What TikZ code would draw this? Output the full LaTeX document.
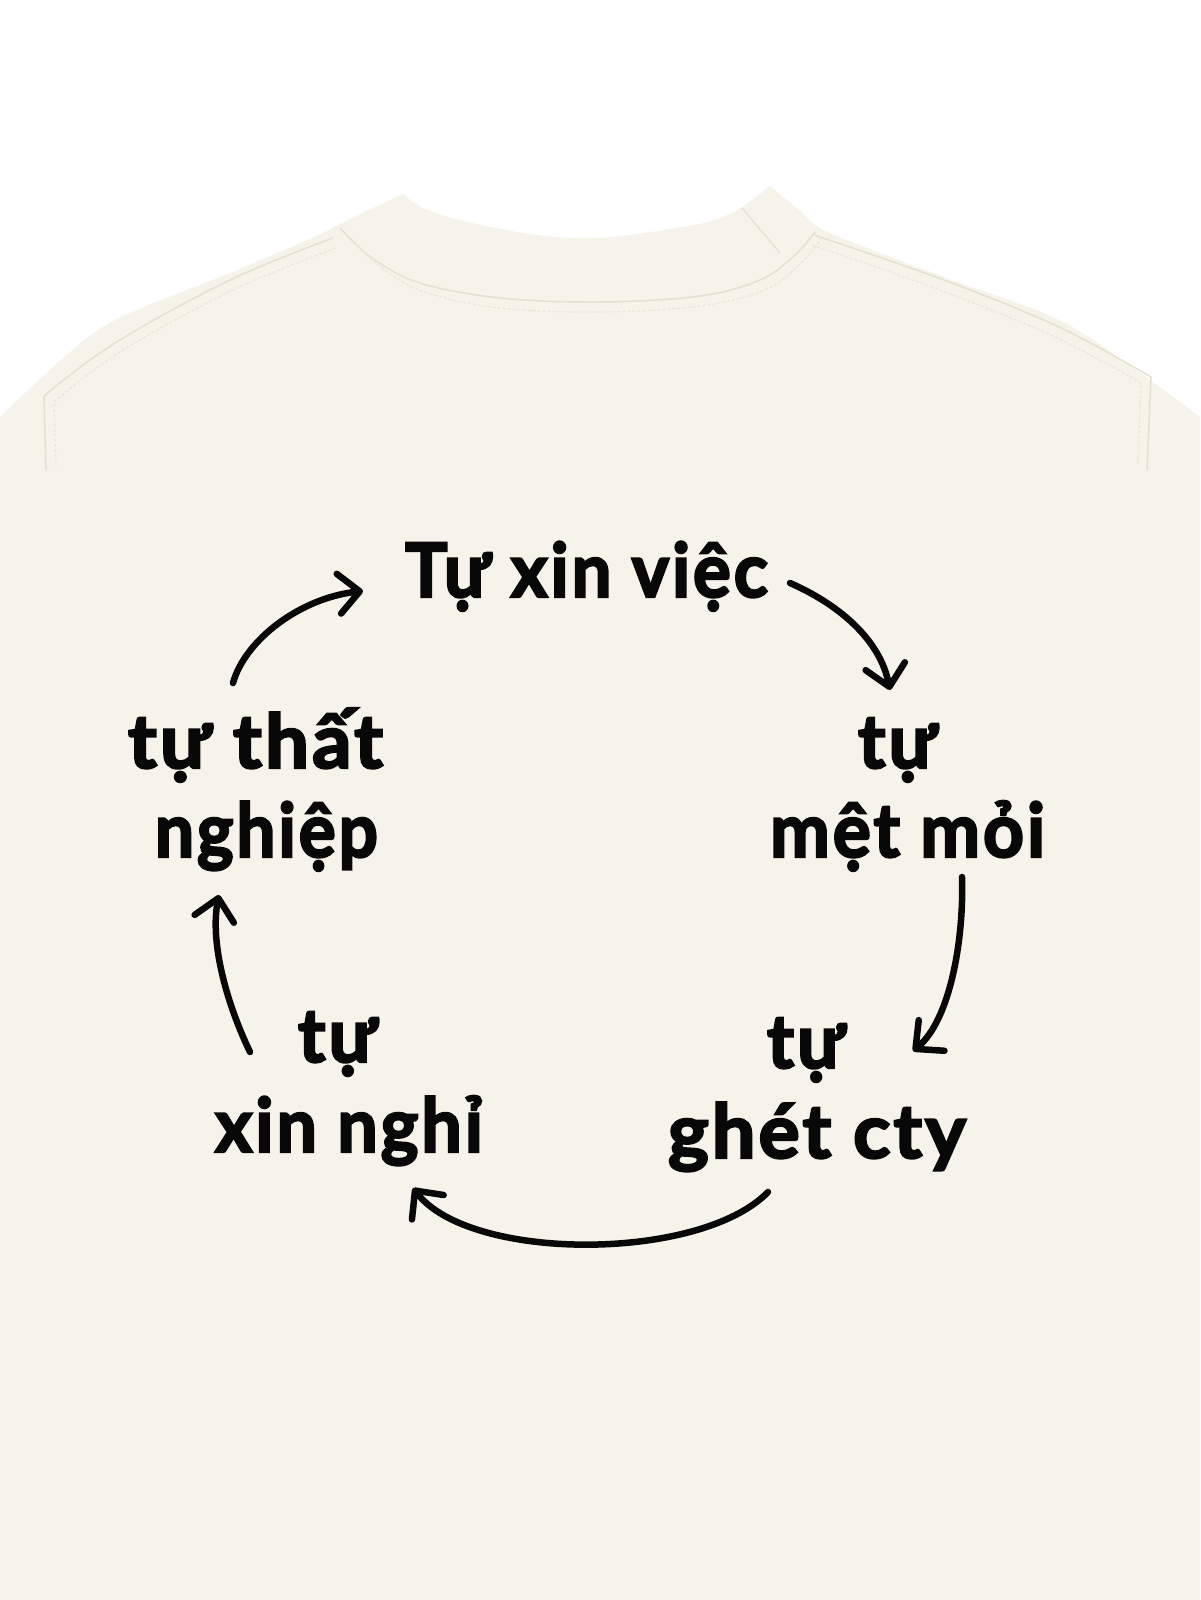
\documentclass[tikz,border=0pt]{standalone}
\usepackage{fontspec}
\usepackage{graphicx}
\setmainfont{Lato}[BoldFeatures={FakeBold=3,LetterSpace=4}]
\usetikzlibrary{arrows.meta}
\definecolor{shirt}{RGB}{246,243,234}
\definecolor{seam}{RGB}{230,224,210}
\definecolor{ink}{RGB}{8,8,8}
\newcommand{\fitw}[2]{\resizebox{#1pt}{\height}{\fontsize{75}{80}\selectfont\bfseries #2}}
\tikzset{
  lbl/.style={inner sep=0pt, outer sep=0pt, anchor=base west, text=ink},
  conn/.style={line width=6.5pt, line cap=round, draw=ink, -{Straight Barb[length=21pt,width=40pt,round]}},
  seamline/.style={draw=seam, line width=1.5pt, line cap=round},
  stitchline/.style={draw=seam!70!shirt, line width=1.2pt, dash pattern=on 3pt off 2pt}
}
\begin{document}
\begin{tikzpicture}[x=1pt,y=-1pt]
\useasboundingbox (0,0) rectangle (1200,1600);
\fill[white] (0,0) rectangle (1200,1600);
% shirt body
\fill[shirt] plot[smooth, tension=0.55] coordinates {(0,417) (61,360) (115,320) (230,273) (314,237) (344,222) (403,194)}
  -- plot[smooth, tension=0.55] coordinates {(403,194) (421,207) (459,220) (536,235) (600,238) (677,228) (715,220) (742,207) (770,186)}
  -- plot[smooth, tension=0.55] coordinates {(770,186) (799,210) (830,233) (944,277) (1059,320) (1136,370) (1200,417)}
  -- (1200,1600) -- (0,1600) -- cycle;
% collar band seam
\draw[seamline] plot[smooth, tension=0.6] coordinates {(340,228) (372,258) (420,283) (500,298) (600,302) (700,296) (760,280) (795,255) (815,232)};
\draw[stitchline] plot[smooth, tension=0.6] coordinates {(352,240) (382,268) (425,292) (500,308) (600,312) (700,306) (765,290) (800,264) (822,238)};
\draw[seamline, line width=1.2pt] (742,208) -- (780,253);
% raglan seams
\draw[seamline] plot[smooth, tension=0.6] coordinates {(333,238) (230,280) (115,343) (44,396)} -- (46,470);
\draw[seamline] plot[smooth, tension=0.6] coordinates {(814,235) (944,280) (1059,327) (1151,377)} -- (1147,470);
\draw[stitchline] plot[smooth, tension=0.6] coordinates {(336,248) (233,290) (120,352) (54,402)} -- (56,465);
\draw[stitchline] plot[smooth, tension=0.6] coordinates {(812,245) (940,290) (1055,337) (1141,383)} -- (1138,465);
% labels
\node[lbl] (xv) at (405,597) {\fitw{363}{Tự xin việc}};
\node[lbl] (mm1) at (858,768) {\fitw{79}{tự}};
\node[lbl] (mm2) at (770,857) {\fitw{275}{mệt mỏi}};
\node[lbl] (gc1) at (767,1068) {\fitw{78}{tự}};
\node[lbl] (gc2) at (668,1158) {\fitw{298}{ghét cty}};
\node[lbl] (xn1) at (298,1062) {\fitw{79}{tự}};
\node[lbl] (xn2) at (215,1152) {\fitw{268}{xin nghỉ}};
\node[lbl] (tn1) at (128,768) {\fitw{255}{tự thất}};
\node[lbl] (tn2) at (155,857) {\fitw{223}{nghiệp}};
% connector ends
\coordinate (a1s) at (233,683); \coordinate (a1e) at (363,591);
\coordinate (a2s) at (790,583); \coordinate (a2e) at (890,690);
\coordinate (a3s) at (962,877); \coordinate (a3e) at (913,1051);
\coordinate (a4s) at (768,1192); \coordinate (a4e) at (413,1188);
\coordinate (a5s) at (250,1052); \coordinate (a5e) at (219,895);
\draw[conn] (a1s) .. controls (245,640) and (300,598) .. (a1e);
\draw[conn] (a2s) .. controls (840,605) and (880,640) .. (a2e);
\draw[conn] (a3s) .. controls (964,940) and (950,1020) .. (a3e);
\draw[conn] (a4s) .. controls (700,1262) and (470,1262) .. (a4e);
\draw[conn] (a5s) .. controls (225,1000) and (210,940) .. (a5e);
\end{tikzpicture}
\end{document}
